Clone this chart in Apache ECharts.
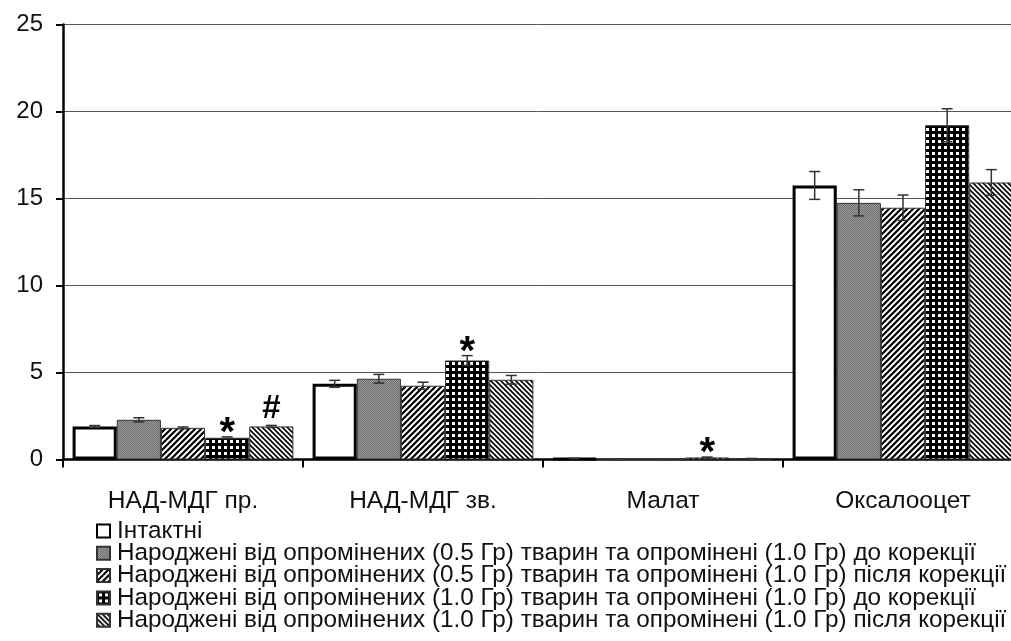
<!DOCTYPE html>
<html>
<head>
<meta charset="utf-8">
<script src="https://cdn.jsdelivr.net/npm/echarts@6/dist/echarts.min.js"></script>
<style>
html,body{margin:0;padding:0;background:#fff;}
#chart{width:1011px;height:641px;}
</style>
</head>
<body>
<div id="chart"></div>
<script>
var categories = ['НАД-МДГ пр.', 'НАД-МДГ зв.', 'Малат', 'Оксалооцет'];
var seriesNames = [
	'Інтактні',
	'Народжені від опромінених (0.5 Гр) тварин та опромінені (1.0 Гр) до корекції',
	'Народжені від опромінених (0.5 Гр) тварин та опромінені (1.0 Гр) після корекції',
	'Народжені від опромінених (1.0 Гр) тварин та опромінені (1.0 Гр) до корекції',
	'Народжені від опромінених (1.0 Гр) тварин та опромінені (1.0 Гр) після корекції'
];
var intact = [1.9, 4.35, 0.06, 15.75];
var intactErr = [0.05, 0.2, 0.01, 0.8];
var g05before = [2.28, 4.64, 0.03, 14.75];
var g05beforeErr = [0.12, 0.25, 0.01, 0.75];
var g05after = [1.82, 4.24, 0.03, 14.47];
var g05afterErr = [0.05, 0.2, 0.01, 0.73];
var g10before = [1.25, 5.69, 0.12, 19.21];
var g10beforeErr = [0.05, 0.28, 0.02, 0.95];
var g10after = [1.9, 4.58, 0.05, 15.92];
var g10afterErr = [0.06, 0.25, 0.01, 0.74];
var g10beforeMarks = ['*', '*', '*', ''];
var g10afterMarks = ['#', '', '', ''];
var yTicks = [0, 5, 10, 15, 20, 25];

var values = [intact, g05before, g05after, g10before, g10after];
var errors = [intactErr, g05beforeErr, g05afterErr, g10beforeErr, g10afterErr];
var marks = [null, null, null, g10beforeMarks, g10afterMarks];

var FONT = '"Liberation Sans", Arial, sans-serif';

// small canvas tiles used as bar fills
function pattern(kind) {
	var c = document.createElement('canvas');
	var ctx = c.getContext('2d');
	var s;
	if (kind == 'gray') {
		s = 2; c.width = s; c.height = s;
		ctx.fillStyle = '#9a9a9a'; ctx.fillRect(0, 0, s, s);
		ctx.fillStyle = '#6e6e6e'; ctx.fillRect(0, 0, 1, 1); ctx.fillRect(1, 1, 1, 1);
	} else if (kind == 'fwd') {
		s = 6; c.width = s; c.height = s;
		ctx.fillStyle = '#fff'; ctx.fillRect(0, 0, s, s);
		ctx.strokeStyle = '#000'; ctx.lineWidth = 2.2;
		ctx.beginPath();
		ctx.moveTo(-1, s + 1); ctx.lineTo(s + 1, -1);
		ctx.moveTo(-2, 2); ctx.lineTo(2, -2);
		ctx.moveTo(s - 2, s + 2); ctx.lineTo(s + 2, s - 2);
		ctx.stroke();
	} else if (kind == 'back') {
		s = 5; c.width = s; c.height = s;
		ctx.fillStyle = '#fff'; ctx.fillRect(0, 0, s, s);
		ctx.strokeStyle = '#000'; ctx.lineWidth = 1.7;
		ctx.beginPath();
		ctx.moveTo(-1, -1); ctx.lineTo(s + 1, s + 1);
		ctx.moveTo(-2, s - 2); ctx.lineTo(2, s + 2);
		ctx.moveTo(s - 2, -2); ctx.lineTo(s + 2, 2);
		ctx.stroke();
	} else {
		s = 6; c.width = s; c.height = s;
		ctx.fillStyle = '#000'; ctx.fillRect(0, 0, s, s);
		ctx.fillStyle = '#fff'; ctx.fillRect(2, 2, 3, 3);
	}
	return { image: c, repeat: 'repeat' };
}

var fills = ['#fff', pattern('gray'), pattern('fwd'), pattern('check'), pattern('back')];

var myChart = echarts.init(document.getElementById('chart'));

var series = [];
for (var s = 0; s < 5; s++) {
	series.push({
		name: seriesNames[s],
		type: 'bar',
		barGap: '0%',
		barCategoryGap: '8%',
		itemStyle: {
			color: fills[s],
			borderColor: s == 0 ? '#000' : '#333',
			borderWidth: s == 0 ? 3 : 1
		},
		emphasis: { disabled: true },
		data: values[s]
	});
}

var errData = [];
for (var s = 0; s < 5; s++) {
	for (var i = 0; i < categories.length; i++) {
		errData.push([i, values[s][i], errors[s][i], s, marks[s] ? marks[s][i] : '']);
	}
}

series.push({
	type: 'custom',
	name: 'err',
	silent: true,
	z: 10,
	data: errData,
	encode: { x: 0, y: 1 },
	renderItem: function (params, api) {
		var i = api.value(0), v = api.value(1), e = api.value(2), s = api.value(3);
		var mk = errData[params.dataIndex][4];
		var bw = api.size([1, 0])[0] * 0.92 / 5;
		var x = api.coord([i, v])[0] + (s - 2) * bw;
		var yTop = api.coord([i, v + e])[1];
		var yBot = api.coord([i, Math.max(v - e, 0)])[1];
		var cap = 5.5;
		var st = { stroke: '#333', lineWidth: 1.5 };
		var children = [
			{ type: 'line', shape: { x1: x, y1: yTop, x2: x, y2: yBot }, style: st },
			{ type: 'line', shape: { x1: x - cap, y1: yTop, x2: x + cap, y2: yTop }, style: st },
			{ type: 'line', shape: { x1: x - cap, y1: yBot, x2: x + cap, y2: yBot }, style: st }
		];
		if (mk) {
			children.push({
				type: 'text',
				style: {
					text: mk,
					x: x,
					y: mk == '*' ? yTop - 3 : yTop - 16,
					fill: '#000',
					font: 'bold ' + (mk == '*' ? 40 : 33) + 'px ' + FONT,
					textAlign: 'center',
					textVerticalAlign: 'middle'
				}
			});
		}
		return { type: 'group', children: children };
	}
});

var option = {
	backgroundColor: '#fff',
	animation: false,
	grid: {
		left: 63,
		top: 24.5,
		width: 960,
		height: 435,
		outerBoundsMode: 'none',
		containLabel: false
	},
	legend: {
		orient: 'vertical',
		left: 96,
		top: 519,
		padding: 0,
		itemWidth: 13,
		itemHeight: 13,
		itemGap: -1.7,
		icon: 'rect',
		data: seriesNames,
		selectedMode: false,
		textStyle: {
			fontFamily: FONT,
			fontSize: 24.3,
			lineHeight: 22.3,
			color: '#111',
			padding: [0, 0, 0, 2]
		}
	},
	xAxis: {
		type: 'category',
		data: categories,
		axisLine: { lineStyle: { color: '#000', width: 2.5 } },
		axisTick: { show: true, interval: 0, length: 8, lineStyle: { color: '#000', width: 2 } },
		axisLabel: {
			margin: 29,
			fontFamily: FONT,
			fontSize: 24.5,
			color: '#111'
		},
		splitLine: { show: false }
	},
	yAxis: {
		type: 'value',
		min: 0,
		max: 25,
		interval: 5,
		axisLine: { show: true, lineStyle: { color: '#000', width: 2.5 } },
		axisTick: { show: true, length: 7, lineStyle: { color: '#000', width: 2 } },
		axisLabel: {
			margin: 20,
			fontFamily: FONT,
			fontSize: 24,
			color: '#111',
			formatter: function (val) { return yTicks.indexOf(val) >= 0 ? String(val) : ''; }
		},
		splitLine: { show: true, lineStyle: { color: '#555', width: 1 } }
	},
	series: series
};
myChart.setOption(option, true);
</script>
</body>
</html>
